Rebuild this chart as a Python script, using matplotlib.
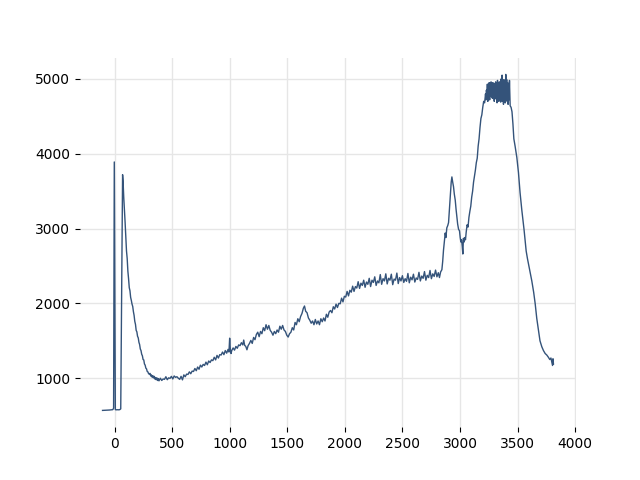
import numpy as np
import matplotlib
matplotlib.use("Agg")
from matplotlib import pyplot as plt

# baseline and the two sharp spikes near zero
x_start = [-104, -90, -75, -60, -45, -30, -15, -8, -2, 7, 15, 25, 35, 45, 54, 70]
y_start = [570, 571, 573, 574, 575, 577, 580, 600, 3890, 580, 578, 579, 578, 580, 590, 3720]

# decay after the second spike
x_decay = [74, 80, 86, 92, 98, 104, 110, 116, 122, 128, 134, 140, 146, 152, 158, 164,
           170, 176, 182, 188, 194, 200, 206, 212, 218, 224, 230, 236, 242, 248, 254,
           260, 266, 272, 278, 284, 290, 296, 302, 308, 314, 320, 326, 332, 338, 344,
           350, 356, 362, 368, 374, 380]
y_decay = [3640, 3420, 3250, 3080, 2880, 2700, 2600, 2430, 2330, 2210, 2170, 2080, 2040,
           1990, 1960, 1890, 1840, 1760, 1720, 1640, 1620, 1560, 1540, 1480, 1450, 1390,
           1370, 1320, 1300, 1250, 1245, 1190, 1175, 1135, 1125, 1090, 1085, 1060, 1055,
           1065, 1030, 1045, 1015, 1035, 1005, 1025, 990, 1010, 980, 1005, 970, 995]

# slow rise up to 1000
x_low = [386, 398, 410, 422, 434, 446, 458, 470, 482, 494, 506, 518, 530, 542, 554, 566,
         578, 590, 602, 614, 626, 638, 650, 662, 674, 686, 698, 710, 722, 734, 746, 758,
         770, 782, 794, 806, 818, 830, 842, 854, 866, 878, 890, 902, 914, 926, 938, 950,
         962, 974, 986, 994, 1000, 1006, 1012]
y_low = [965, 1000, 970, 990, 985, 1020, 980, 1005, 998, 1025, 990, 1030, 1012, 1020, 1000,
         985, 1025, 978, 1045, 1020, 1055, 1050, 1085, 1060, 1095, 1090, 1130, 1100, 1150,
         1120, 1175, 1150, 1185, 1170, 1215, 1180, 1230, 1210, 1245, 1235, 1280, 1245,
         1305, 1270, 1315, 1310, 1350, 1315, 1370, 1335, 1385, 1350, 1535, 1380, 1330]

# bumps between 1000 and 1900
x_mid = [1018, 1030, 1042, 1054, 1066, 1078, 1090, 1102, 1114, 1122, 1130, 1140, 1150, 1160,
         1172, 1184, 1196, 1208, 1220, 1232, 1244, 1256, 1268, 1280, 1292, 1304, 1316, 1328,
         1340, 1352, 1364, 1376, 1388, 1400, 1412, 1424, 1436, 1448, 1460, 1472, 1484, 1496,
         1508, 1520, 1532, 1544, 1556, 1568, 1580, 1592, 1604, 1616, 1628, 1640, 1650, 1660,
         1672, 1684, 1696, 1708, 1720, 1732, 1744, 1756, 1768, 1780, 1792, 1804, 1816, 1828,
         1840, 1852, 1864, 1876, 1888]
y_mid = [1370, 1405, 1375, 1425, 1400, 1445, 1435, 1475, 1445, 1510, 1440, 1425, 1380, 1435,
         1465, 1505, 1465, 1545, 1515, 1585, 1615, 1555, 1625, 1595, 1675, 1635, 1715, 1655,
         1705, 1640, 1615, 1575, 1625, 1595, 1645, 1615, 1695, 1655, 1705, 1645, 1625, 1575,
         1550, 1595, 1615, 1675, 1645, 1745, 1715, 1795, 1755, 1825, 1865, 1935, 1965, 1895,
         1875, 1805, 1775, 1735, 1765, 1715, 1785, 1725, 1765, 1715, 1795, 1755, 1805, 1765,
         1855, 1815, 1885, 1905, 1875]

# noisy plateau
x_plat = [1900, 1912, 1924, 1936, 1948, 1960, 1972, 1984, 1996, 2008, 2020, 2032, 2044, 2056,
          2068, 2080, 2092, 2104, 2116, 2128, 2140, 2152, 2164, 2176, 2188, 2200, 2212, 2224,
          2236, 2248, 2260, 2272, 2284, 2296, 2308, 2320, 2332, 2344, 2356, 2368, 2380, 2392,
          2404, 2416, 2428, 2440, 2452, 2464, 2476, 2488, 2500, 2512, 2524, 2536, 2548, 2560,
          2572, 2584, 2596, 2608, 2620, 2632, 2644, 2656, 2668, 2680, 2692, 2704, 2716, 2728,
          2740, 2752, 2764, 2776, 2788, 2800, 2812, 2822, 2832]
y_plat = [1955, 1925, 1990, 1945, 2000, 1995, 2070, 2020, 2095, 2085, 2160, 2100, 2175, 2150,
          2230, 2160, 2225, 2205, 2290, 2200, 2270, 2240, 2310, 2215, 2285, 2255, 2335, 2225,
          2310, 2280, 2355, 2240, 2300, 2275, 2385, 2255, 2330, 2300, 2395, 2260, 2335, 2310,
          2390, 2250, 2325, 2310, 2405, 2265, 2345, 2300, 2370, 2280, 2330, 2295, 2400, 2275,
          2350, 2315, 2390, 2285, 2340, 2320, 2415, 2300, 2365, 2335, 2425, 2310, 2375, 2345,
          2440, 2330, 2395, 2360, 2445, 2355, 2410, 2345, 2420]

# two peaks and the final drop
x_peak = [2843, 2850, 2857, 2864, 2872, 2878, 2886, 2894, 2901, 2908, 2916, 2924, 2930, 2937,
          2944, 2951, 2959, 2966, 2973, 2980, 2988, 2996, 3002, 3008, 3014, 3020, 3025, 3030,
          3036, 3042, 3048, 3054, 3062, 3070, 3078, 3086, 3094, 3102, 3110, 3118, 3126, 3134,
          3142, 3150, 3158, 3166, 3174, 3182, 3190, 3198, 3206, 3214, 3222, 3226, 3230, 3234,
          3238, 3242, 3246, 3250, 3254, 3258, 3262, 3266, 3270, 3274, 3278, 3282, 3286, 3290,
          3294, 3298, 3302, 3306, 3310, 3314, 3318, 3322, 3326, 3330, 3334, 3338, 3342, 3346,
          3350, 3354, 3358, 3362, 3366, 3370, 3374, 3378, 3382, 3386, 3390, 3394, 3398, 3402,
          3406, 3410, 3414, 3418, 3422, 3426, 3430, 3436, 3444, 3452, 3460, 3468,
          3479, 3494, 3508, 3522, 3537, 3557, 3575, 3586, 3605, 3624, 3640, 3653, 3667, 3682,
          3695, 3711, 3725, 3740, 3754, 3768, 3780, 3790, 3798, 3804, 3808, 3812]
y_peak = [2450, 2560, 2710, 2820, 2940, 2880, 3010, 3040, 3080, 3250, 3450, 3620, 3690, 3620,
          3560, 3460, 3380, 3260, 3160, 3060, 2990, 2970, 2880, 2820, 2850, 2760, 2660, 2870,
          2820, 2880, 2850, 2950, 3050, 3020, 3150, 3230, 3300, 3420, 3500, 3620, 3700, 3780,
          3880, 3940, 4100, 4200, 4350, 4470, 4520, 4620, 4700, 4680, 4800, 4720, 4850, 4760,
          4930, 4700, 4910, 4780, 4950, 4720, 4920, 4800, 4960, 4760, 4890, 4740, 4950, 4780,
          4880, 4700, 4940, 4810, 4960, 4730, 4900, 4680, 4980, 4750, 4920, 4700, 4960, 4760,
          4880, 4690, 5000, 4760, 5050, 4700, 4930, 4660, 4990, 4780, 4870, 4680, 5060, 4760,
          4990, 4700, 4950, 4660, 4930, 4720, 4980, 4640, 4620, 4560, 4400, 4200,
          4100, 3950, 3750, 3480, 3250, 2980, 2700, 2600, 2450, 2300, 2150, 2000, 1800, 1640,
          1500, 1420, 1370, 1330, 1310, 1280, 1250, 1270, 1210, 1170, 1260, 1190]

x = np.concatenate([x_start, x_decay, x_low, x_mid, x_plat, x_peak])
y = np.concatenate([y_start, y_decay, y_low, y_mid, y_plat, y_peak])

fig, ax = plt.subplots(figsize=(6.4, 4.8), dpi=100)
ax.plot(x, y, color="#34537a", linewidth=1.0)

ax.set_xticks([0, 500, 1000, 1500, 2000, 2500, 3000, 3500, 4000])
ax.set_yticks([1000, 2000, 3000, 4000, 5000])
ax.grid(True, color="#e6e6e6", linewidth=1.0)
ax.set_axisbelow(True)
for side in ["top", "right", "bottom", "left"]:
    ax.spines[side].set_visible(False)

plt.savefig("out.png")
